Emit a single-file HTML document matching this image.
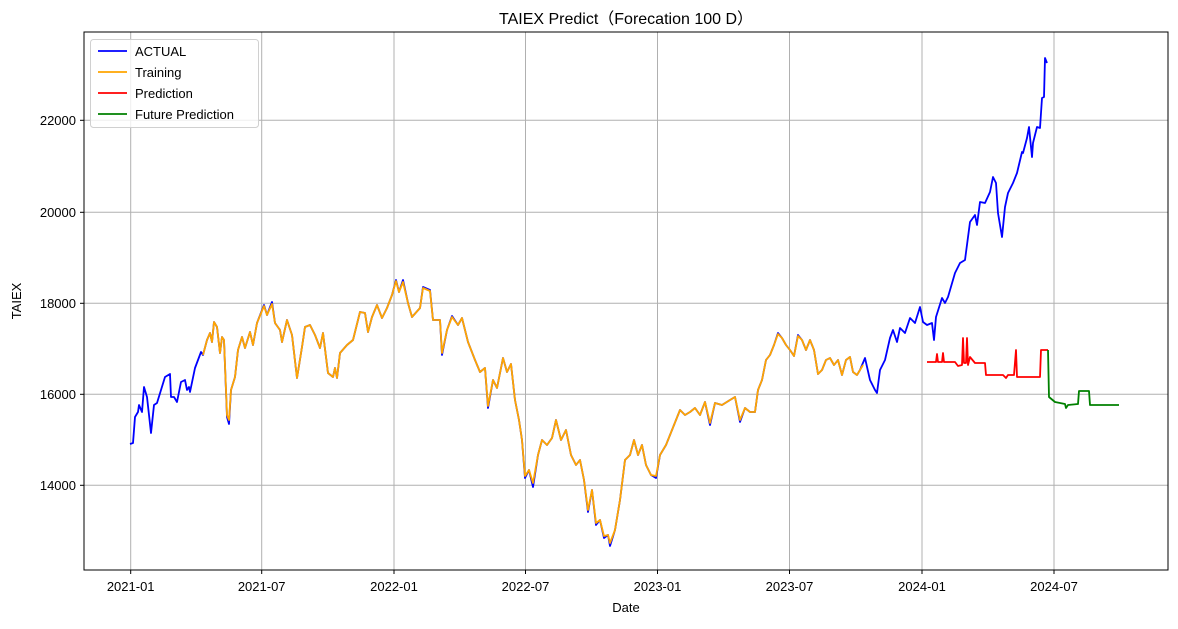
<!DOCTYPE html>
<html><head><meta charset="utf-8"><style>
body{margin:0;background:#fff;}
svg text{font-family:"Liberation Sans","Noto Sans CJK SC",sans-serif;fill:#000;}
</style></head><body>
<svg width="1178" height="624" xmlns="http://www.w3.org/2000/svg">
<rect width="1178" height="624" fill="#fff"/>
<g stroke="#b0b0b0" stroke-width="1">
<line x1="130.7" y1="32" x2="130.7" y2="570"/><line x1="261.7" y1="32" x2="261.7" y2="570"/>
<line x1="394" y1="32" x2="394" y2="570"/><line x1="525.5" y1="32" x2="525.5" y2="570"/>
<line x1="657.5" y1="32" x2="657.5" y2="570"/><line x1="789.5" y1="32" x2="789.5" y2="570"/>
<line x1="922" y1="32" x2="922" y2="570"/><line x1="1054" y1="32" x2="1054" y2="570"/>
<line x1="84" y1="120.3" x2="1168" y2="120.3"/><line x1="84" y1="212.3" x2="1168" y2="212.3"/>
<line x1="84" y1="303.3" x2="1168" y2="303.3"/><line x1="84" y1="394.3" x2="1168" y2="394.3"/>
<line x1="84" y1="485.3" x2="1168" y2="485.3"/>
</g>
<g fill="none" stroke-width="1.8" stroke-linejoin="round">
<polyline stroke="#0000ff" points="130,444 133,443 135,417 138,412 139,405 142,412 144,387 147,397 151,433 154,405 157,403 165,377 170,374 171,397 174,397 177,402 181,382 185,380 187,390 189,387 190,392 195,368 201,352 203,355 207,340 210,333 212,342 214,322 217,327 220,353 222,337 224,340 227,417 229,424 231,390 235,377 238,350 242,337 245,348 250,332 253,345 257,323 264,305 267,315 272,302 275,323 280,330 282,342 287,320 292,335 297,378 302,347 305,327 310,325 315,335 320,348 323,333 328,373 333,377 335,368 337,378 340,353 347,345 353,340 360,312 365,313 368,332 372,317 377,305 382,318 387,308 392,295 396,280 399,292 403,280 408,303 412,317 420,308 423,287 430,290 433,320 440,320 442,355 447,330 452,316 458,325 462,318 468,342 475,360 480,372 485,368 488,408 493,380 497,388 503,358 507,372 511,364 515,400 519,420 522,440 525,478 529,470 533,487 538,455 542,440 547,445 552,438 556,420 561,440 566,430 571,455 576,465 580,460 584,480 588,512 592,490 596,525 600,520 604,538 608,535 610,546 615,530 620,500 625,460 630,455 634,440 638,455 642,445 646,465 651,475 656,478 660,455 666,445 672,430 680,410 685,415 690,412 695,408 700,415 705,402 710,425 715,403 722,405 730,400 735,397 740,422 745,408 750,412 755,412 758,390 762,380 766,360 770,355 774,345 778,333 782,338 786,345 790,350 794,356 798,335 802,340 806,350 810,340 814,350 818,374 822,370 826,360 830,358 834,365 838,360 842,375 846,360 850,357 853,372 857,375 860,370 865,358 870,380 875,390 877,393 880,370 885,360 890,338 893,330 897,342 900,328 905,333 910,318 915,323 920,307 923,322 927,325 932,323 934,340 936,317 942,298 945,303 948,297 955,273 960,263 965,260 970,222 975,215 977,225 980,202 985,203 990,192 993,177 996,183 998,213 1002,237 1005,207 1008,193 1013,183 1017,173 1022,152 1023,153 1027,138 1029,127 1032,157 1033,143 1037,127 1040,128 1042,98 1044,97 1045,58 1047,63"/>
<polyline stroke="#ffa500" points="203,355 207,340 210,333 212,342 214,322 217,327 220,353 222,337 224,340 227,415 229,420 231,390 235,377 238,350 242,337 245,348 250,332 253,345 257,323 264,306 267,315 272,304 275,323 280,330 282,342 287,320 292,335 297,378 302,347 305,327 310,325 315,335 320,348 323,333 328,373 333,377 335,368 337,378 340,353 347,345 353,340 360,312 365,313 368,332 372,317 377,305 382,318 387,308 392,295 396,281 399,292 403,282 408,303 412,317 420,308 423,288 430,291 433,320 440,320 442,353 447,330 452,317 458,325 462,318 468,342 475,360 480,372 485,368 488,406 493,380 497,388 503,358 507,372 511,364 515,400 519,420 522,440 525,476 529,470 533,483 538,455 542,440 547,445 552,438 556,420 561,440 566,430 571,455 576,465 580,460 584,480 588,510 592,490 596,523 600,520 604,536 608,535 610,543 615,530 620,500 625,460 630,455 634,440 638,455 642,445 646,465 651,475 656,476 660,455 666,445 672,430 680,410 685,415 690,412 695,408 700,415 705,402 710,423 715,403 722,405 730,400 735,397 740,420 745,408 750,412 755,412 758,390 762,380 766,360 770,355 774,345 778,334 782,338 786,345 790,350 794,356 798,336 802,340 806,350 810,340 814,350 818,374 822,370 826,360 830,358 834,365 838,360 842,375 846,360 850,357 853,372 857,375 860,370 863,365"/>
<polyline stroke="#ff0000" points="927,362 936,362 937,354 938,362 942,362 943,353 944,362 955,362 958,366 962,365 963,338 964,363 966,363 967,338 968,365 970,357 975,363 985,363 986,375 1003,375 1006,378 1008,375 1014,375 1016,350 1017,377 1040,377 1041,350 1048,350"/>
<polyline stroke="#008000" points="1048,350 1049,397 1055,402 1065,404 1066,408 1068,405 1078,404 1079,391 1089,391 1090,405 1119,405"/>
</g>
<rect x="84" y="32" width="1084" height="538" fill="none" stroke="#000" stroke-width="1"/>
<g stroke="#000" stroke-width="1">
<line x1="130.7" y1="570" x2="130.7" y2="574"/><line x1="261.7" y1="570" x2="261.7" y2="574"/>
<line x1="394" y1="570" x2="394" y2="574"/><line x1="525.5" y1="570" x2="525.5" y2="574"/>
<line x1="657.5" y1="570" x2="657.5" y2="574"/><line x1="789.5" y1="570" x2="789.5" y2="574"/>
<line x1="922" y1="570" x2="922" y2="574"/><line x1="1054" y1="570" x2="1054" y2="574"/>
<line x1="80" y1="120.3" x2="84" y2="120.3"/><line x1="80" y1="212.3" x2="84" y2="212.3"/>
<line x1="80" y1="303.3" x2="84" y2="303.3"/><line x1="80" y1="394.3" x2="84" y2="394.3"/>
<line x1="80" y1="485.3" x2="84" y2="485.3"/>
</g>
<g font-size="13" text-anchor="middle">
<text x="130.7" y="591">2021-01</text><text x="261.7" y="591">2021-07</text>
<text x="394" y="591">2022-01</text><text x="525.5" y="591">2022-07</text>
<text x="657.5" y="591">2023-01</text><text x="789.5" y="591">2023-07</text>
<text x="922" y="591">2024-01</text><text x="1054" y="591">2024-07</text>
</g>
<g font-size="13" text-anchor="end">
<text x="76" y="125">22000</text><text x="76" y="217">20000</text>
<text x="76" y="308">18000</text><text x="76" y="399">16000</text><text x="76" y="490">14000</text>
</g>
<text x="626" y="612" font-size="13" text-anchor="middle">Date</text>
<text transform="translate(21,301) rotate(-90)" font-size="13" text-anchor="middle">TAIEX</text>
<text x="626" y="24" font-size="16" text-anchor="middle">TAIEX Predict（Forecation 100 D）</text>
<rect x="90.5" y="39.5" width="168" height="88" rx="3" fill="#fff" fill-opacity="0.8" stroke="#d0d0d0"/>
<g stroke-width="1.8">
<line x1="98" y1="51" x2="127" y2="51" stroke="#0000ff"/>
<line x1="98" y1="72" x2="127" y2="72" stroke="#ffa500"/>
<line x1="98" y1="93" x2="127" y2="93" stroke="#ff0000"/>
<line x1="98" y1="114" x2="127" y2="114" stroke="#008000"/>
</g>
<g font-size="13">
<text x="135" y="56">ACTUAL</text><text x="135" y="77">Training</text>
<text x="135" y="98">Prediction</text><text x="135" y="119">Future Prediction</text>
</g>
</svg>
</body></html>
